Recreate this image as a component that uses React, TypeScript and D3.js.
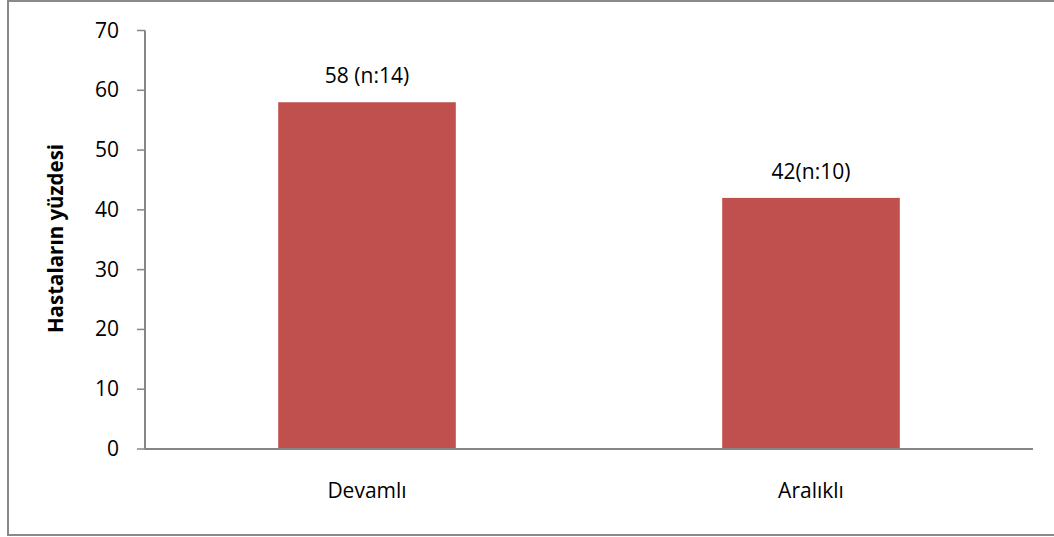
import React from "react";
import * as d3 from "d3";

const categories = ["Devamlı", "Aralıklı"];
const values = [58, 42];
const valueLabels = ["58 (n:14)", "42(n:10)"];
const yTicks = [0, 10, 20, 30, 40, 50, 60, 70];
const yTitle = "Hastaların yüzdesi";

export default function App() {
  const W = 1054, H = 537;
  const left = 145, right = 1033, top = 30.5, bottom = 449;
  const x = d3.scaleBand<string>().domain(categories).range([left, right]).paddingInner(0.6).paddingOuter(0.3);
  const y = d3.scaleLinear().domain([0, 70]).range([bottom, top]);
  const font = "'Open Sans', sans-serif";
  const axisColor = "#868686";
  return (
    <svg width={W} height={H} style={{ position: "absolute", left: 0, top: 0, background: "#fff" }}>
      <rect x={8} y={1} width={1060} height={534} fill="#fff" stroke="#898989" strokeWidth={2} />
      {categories.map((c, i) => (
        <g key={c}>
          <rect x={x(c)} y={y(values[i])} width={x.bandwidth()} height={y(0) - y(values[i])} fill="#C0504D" />
          <text x={x(c)! + x.bandwidth() / 2} y={y(values[i]) - 19} textAnchor="middle" fontFamily={font} fontSize={21} fill="#000">{valueLabels[i]}</text>
          <text x={x(c)! + x.bandwidth() / 2} y={497.5} textAnchor="middle" fontFamily={font} fontSize={21} fill="#000">{c}</text>
        </g>
      ))}
      <line x1={left} x2={left} y1={top} y2={bottom} stroke={axisColor} strokeWidth={2} />
      <line x1={left} x2={right} y1={bottom} y2={bottom} stroke={axisColor} strokeWidth={2} />
      {yTicks.map((t) => (
        <g key={t}>
          <line x1={137} x2={left} y1={y(t)} y2={y(t)} stroke={axisColor} strokeWidth={1.5} />
          <text x={119} y={y(t) + 7} textAnchor="end" fontFamily={font} fontSize={21} fill="#000">{t}</text>
        </g>
      ))}
      <text transform={`translate(63,238.5) rotate(-90)`} textAnchor="middle" fontFamily={font} fontSize={20.5} fontWeight="bold" fill="#000">{yTitle}</text>
    </svg>
  );
}
